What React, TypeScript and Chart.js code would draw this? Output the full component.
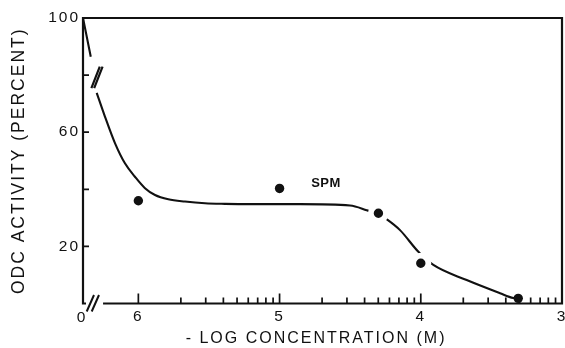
import React, { useEffect, useRef } from 'react';
import { Chart, registerables } from 'chart.js';

Chart.register(...registerables);

// ---- data (x in -log concentration units, y in percent) ----
const pointX = [6, 5, 4.3, 4, 3.31];
const pointY = [36, 40.3, 31.6, 14.1, 1.8];

const curveX = [6.392, 6.337, 6.31, 6.295, 6.236, 6.165, 6.095, 6.024, 5.953, 5.882, 5.788, 5.67, 5.528, 5.386, 5.209, 4.855, 4.501, 4.383, 4.298, 4.241, 4.147, 4.017, 3.911, 3.675, 3.439, 3.345, 3.32];
const curveY = [100, 86.4, null, 73.8, 65.4, 56.1, 49.1, 44.4, 40.4, 38.0, 36.5, 35.7, 35.1, 34.9, 34.8, 34.8, 34.3, 32.7, 31.3, 29.5, 25.7, 18.1, 13.5, 8.2, 3.6, 1.9, 1.7];

const xTickValues = [6, 5, 4, 3];
const xTickLabels = ['6', '5', '4', '3'];
const xMinorMultipliers = [2, 3, 4, 5, 6, 7, 8, 9];
const yTickValues = [0, 20, 40, 60, 80, 100];
const yTickLabels = ['', '20', '', '60', '', '100'];
const yInnerTicks = [20, 40, 60, 80];

const xTitle = '- LOG CONCENTRATION (M)';
const yTitle = 'ODC ACTIVITY (PERCENT)';
const seriesLabel = 'SPM';
const seriesLabelPos = { x: 4.671, y: 42.2 };
const curveBreakPos = { x: 6.293, y: 79.2 };

const X_MIN = 3;
const X_MAX = 6.392;
const X_AXIS_START = 6.25;

const INK = '#111111';
const FONT = '"Liberation Sans", Arial, sans-serif';

function noLabelPadding(s: any) {
  s._calculatePadding = function () {
    this.paddingLeft = 0;
    this.paddingRight = 0;
    this.paddingTop = 0;
    this.paddingBottom = 0;
  };
}

const decorPlugin = {
  id: 'decor',
  beforeDraw(chart: any) {
    chart.ctx.letterSpacing = '2px';
  },
  beforeDatasetsDraw(chart: any) {
    const { ctx, chartArea, scales } = chart;
    const { left, right, top, bottom } = chartArea;
    const x = scales.x;
    const y = scales.y;
    ctx.save();
    ctx.strokeStyle = INK;
    ctx.lineWidth = 2.2;
    ctx.lineCap = 'butt';
    ctx.beginPath();
    // y axis with small foot
    ctx.moveTo(left, top - 1);
    ctx.lineTo(left, bottom);
    ctx.lineTo(left + 3, bottom);
    // frame top + right
    ctx.moveTo(left - 1, top);
    ctx.lineTo(right, top);
    ctx.lineTo(right, bottom + 1);
    // x axis (broken near origin)
    const xs = x.getPixelForValue(X_AXIS_START);
    ctx.moveTo(xs, bottom);
    ctx.lineTo(right, bottom);
    ctx.stroke();

    // ticks
    ctx.lineWidth = 1.7;
    ctx.beginPath();
    for (const v of xTickValues) {
      const px = x.getPixelForValue(v);
      if (px > right - 1) continue;
      ctx.moveTo(px, bottom);
      ctx.lineTo(px, bottom - 10);
    }
    for (const d of [6, 5, 4]) {
      for (const k of xMinorMultipliers) {
        const px = x.getPixelForValue(d - Math.log10(k));
        ctx.moveTo(px, bottom);
        ctx.lineTo(px, bottom - 6);
      }
    }
    for (const v of yInnerTicks) {
      const py = y.getPixelForValue(v);
      ctx.moveTo(left, py);
      ctx.lineTo(left + 6, py);
    }
    ctx.stroke();

    // origin break "//"
    ctx.lineWidth = 2;
    ctx.beginPath();
    ctx.moveTo(left + 3.7, bottom + 8);
    ctx.lineTo(left + 11, bottom - 8.5);
    ctx.moveTo(left + 8.7, bottom + 8);
    ctx.lineTo(left + 16, bottom - 8.5);
    ctx.stroke();

    // "0" label at origin
    ctx.fillStyle = INK;
    ctx.font = `15.5px ${FONT}`;
    ctx.textAlign = 'center';
    ctx.textBaseline = 'middle';
    ctx.fillText('0', left - 1, bottom + 14);
    ctx.restore();
  },
  afterDatasetsDraw(chart: any) {
    const { ctx, scales } = chart;
    const x = scales.x;
    const y = scales.y;
    ctx.save();
    // curve break "//"
    const cx = x.getPixelForValue(curveBreakPos.x);
    const cy = y.getPixelForValue(curveBreakPos.y);
    ctx.strokeStyle = INK;
    ctx.lineWidth = 2.2;
    ctx.beginPath();
    for (const off of [-1.4, 1.4]) {
      ctx.moveTo(cx - 4.2 + off, cy + 10.8);
      ctx.lineTo(cx + 4.2 + off, cy - 10.8);
    }
    ctx.stroke();

    // series label
    ctx.letterSpacing = '0.5px';
    ctx.fillStyle = INK;
    ctx.font = `bold 13px ${FONT}`;
    ctx.textAlign = 'center';
    ctx.textBaseline = 'middle';
    ctx.fillText(seriesLabel, x.getPixelForValue(seriesLabelPos.x), y.getPixelForValue(seriesLabelPos.y));
    ctx.restore();
  },
};

export default function App() {
  const canvasRef = useRef<HTMLCanvasElement | null>(null);

  useEffect(() => {
    const canvas = canvasRef.current;
    if (!canvas) return;

    const curveData = curveX.map((v, i) => ({ x: v, y: curveY[i] }));
    const pointData = pointX.map((v, i) => ({ x: v, y: pointY[i] }));
    const ringed = [false, false, true, true, false];

    const chart = new Chart(canvas, {
      type: 'scatter',
      data: {
        datasets: [
          {
            label: 'points',
            data: pointData,
            order: 0,
            showLine: false,
            pointStyle: 'circle',
            backgroundColor: INK,
            pointBackgroundColor: INK,
            pointBorderColor: '#ffffff',
            pointRadius: ringed.map((r) => (r ? 7.6 : 4.7)),
            pointBorderWidth: ringed.map((r) => (r ? 5.8 : 0)),
            pointHoverRadius: 0,
          } as any,
          {
            label: 'curve',
            data: curveData,
            order: 1,
            showLine: true,
            spanGaps: false,
            borderColor: INK,
            borderWidth: 2.1,
            pointRadius: 0,
            cubicInterpolationMode: 'monotone',
          } as any,
        ],
      },
      options: {
        animation: false,
        responsive: true,
        maintainAspectRatio: false,
        devicePixelRatio: 1,
        events: [],
        layout: { autoPadding: false, padding: { top: 18, right: 3, bottom: 0, left: 0 } },
        plugins: {
          legend: { display: false },
          tooltip: { enabled: false },
        },
        scales: {
          x: {
            type: 'linear',
            min: X_MIN,
            max: X_MAX,
            reverse: true,
            grid: { display: false, drawTicks: false },
            border: { display: false },
            beforeFit: noLabelPadding,
            afterBuildTicks: (s: any) => {
              s.ticks = xTickValues.map((v) => ({ value: v }));
            },
            afterFit: (s: any) => {
              s.height = 44.5;
              s.paddingLeft = 0;
              s.paddingRight = 0;
            },
            ticks: {
              autoSkip: false,
              maxRotation: 0,
              padding: 4,
              color: INK,
              font: { family: FONT, size: 15.5 },
              callback: (v: any) => {
                const i = xTickValues.indexOf(Number(v));
                return i >= 0 ? xTickLabels[i] : '';
              },
            },
            title: {
              display: true,
              text: xTitle + '  ',
              color: INK,
              font: { family: FONT, size: 16 },
              padding: { top: 0, bottom: 0 },
            },
          },
          y: {
            type: 'linear',
            min: 0,
            max: 100,
            grid: { display: false, drawTicks: false },
            border: { display: false },
            beforeFit: noLabelPadding,
            afterBuildTicks: (s: any) => {
              s.ticks = yTickValues.map((v) => ({ value: v }));
            },
            afterFit: (s: any) => {
              s.width = 83;
              s.paddingTop = 0;
              s.paddingBottom = 0;
            },
            ticks: {
              autoSkip: false,
              padding: 3,
              color: INK,
              font: { family: FONT, size: 15.5 },
              callback: (v: any) => {
                const i = yTickValues.indexOf(Number(v));
                return i >= 0 ? yTickLabels[i] : '';
              },
            },
            title: {
              display: true,
              text: yTitle,
              color: INK,
              font: { family: FONT, size: 17.5 },
              padding: { top: 8.5, bottom: 0 },
            },
          },
        },
      },
      plugins: [decorPlugin],
    } as any);

    return () => {
      chart.destroy();
    };
  }, []);

  return (
    <div
      style={{
        position: 'fixed',
        left: 0,
        top: 0,
        width: 565,
        height: 348,
        background: '#ffffff',
      }}
    >
      <canvas ref={canvasRef} />
    </div>
  );
}
